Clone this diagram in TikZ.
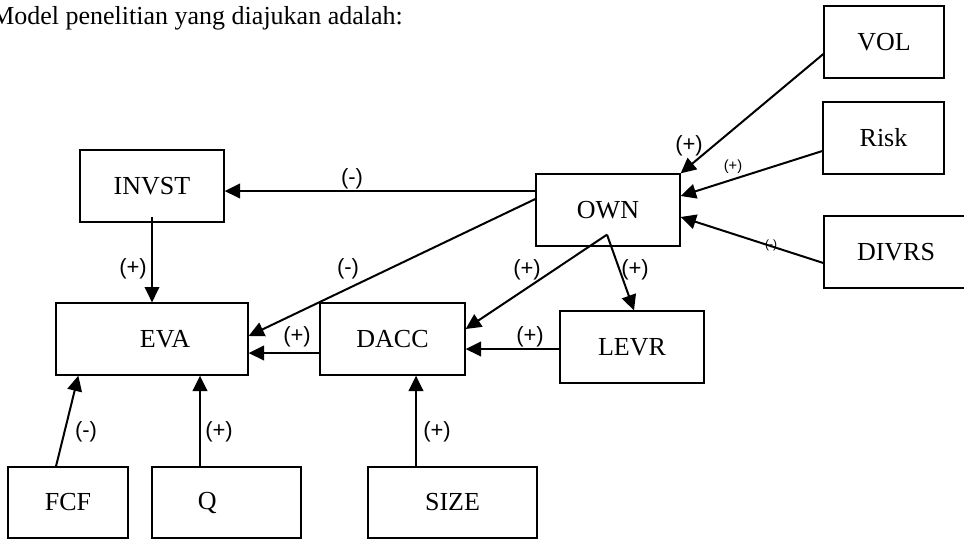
\documentclass[tikz,border=0pt]{standalone}
\usepackage{fontspec}
\setmainfont{Liberation Serif}
\newfontfamily\labelfont{Liberation Sans}
\usetikzlibrary{arrows.meta,calc}
\tikzset{
  box/.style={draw, line width=1pt, rectangle, inner sep=0pt, font=\fontsize{19.5}{23}\selectfont},
  conn/.style={line width=1.5pt, -{Triangle[length=11.5pt,width=11pt]}},
  lbl/.style={inner sep=0pt, font=\labelfont\fontsize{16.5}{19}\selectfont},
  lblsmall/.style={inner sep=0pt, font=\labelfont\fontsize{11}{13}\selectfont},
  lbltiny/.style={inner sep=0pt, font=\labelfont\fontsize{9}{11}\selectfont},
}
\begin{document}
\begin{tikzpicture}[x=0.75pt,y=-0.75pt]
\fill[white] (0,0) rectangle (964,540);
\useasboundingbox (0,0) rectangle (964,540);

\node[anchor=base west, inner sep=0pt, font=\fontsize{19.5}{23}\selectfont] (title) at (-9,24) {Model penelitian yang diajukan adalah:};

% boxes
\node[box, minimum width=90pt, minimum height=54pt] (vol) at (884,42) {VOL};
\node[box, minimum width=90.75pt, minimum height=54pt] (risk) at (883.5,138) {Risk};
\node[box, minimum width=108pt, minimum height=54pt] (divrs) at (896,252) {DIVRS};
\node[box, minimum width=108pt, minimum height=54pt] (own) at (608,210) {OWN};
\node[box, minimum width=108pt, minimum height=54pt] (invst) at (152,186) {INVST};
\node[box, minimum width=144pt, minimum height=54pt] (eva) at (152,339) {\hspace*{19.5pt}EVA};
\node[box, minimum width=108.75pt, minimum height=54pt] (dacc) at (392.5,339) {DACC};
\node[box, minimum width=108pt, minimum height=54pt] (levr) at (632,347) {LEVR};
\node[box, minimum width=90pt, minimum height=53.25pt] (fcf) at (68,502.5) {FCF};
\node[box, minimum width=111.75pt, minimum height=53.25pt] (q) at (226.5,502.5) {Q\hspace*{29pt}};
\node[box, minimum width=126.75pt, minimum height=53.25pt] (size) at (452.5,502.5) {SIZE};

\coordinate (ownfork) at ($(own.south)+(-1,-12)$);

% connectors
\draw[conn] ($(vol.west)+(0,12)$) -- (own.north east);
\draw[conn] ($(risk.west)+(0,13)$) -- ($(own.east)+(0,-14)$);
\draw[conn] ($(divrs.west)+(0,11)$) -- ($(own.east)+(0,7)$);
\draw[conn] ($(own.west)+(0,-19)$) -- ($(invst.east)+(0,5)$);
\draw[conn] ($(own.west)+(0,-11)$) -- ($(eva.east)+(0,-3)$);
\draw[conn] ($(invst.south)+(0,-6)$) -- (eva.north);
\draw[conn] ($(dacc.west)+(0,14)$) -- ($(eva.east)+(0,14)$);
\draw[conn] (ownfork) -- ($(dacc.east)+(0,-10)$);
\draw[conn] (ownfork) -- ($(levr.north)+(2,0)$);
\draw[conn] ($(levr.west)+(0,2)$) -- ($(dacc.east)+(0,10)$);
\draw[conn] ($(fcf.north)+(-12,0)$) -- ($(eva.south west)+(23,0)$);
\draw[conn] ($(q.north)+(-26.5,0)$) -- ($(eva.south)+(48,0)$);
\draw[conn] ($(size.north)+(-36.5,0)$) -- ($(dacc.south)+(23.5,0)$);

% labels
\node[lbl] (l1) at (689,146) {(+)};
\node[lblsmall] (l2) at (733,167) {(+)};
\node[lbltiny] (l3) at (771,245) {(-)};
\node[lbl] (l4) at (352,179) {(-)};
\node[lbl] (l5) at (348,269) {(-)};
\node[lbl] (l6) at (133,269) {(+)};
\node[lbl] (l7) at (297,337) {(+)};
\node[lbl] (l8) at (527,270) {(+)};
\node[lbl] (l9) at (635,270) {(+)};
\node[lbl] (l10) at (530,337) {(+)};
\node[lbl] (l11) at (86,432) {(-)};
\node[lbl] (l12) at (219,432) {(+)};
\node[lbl] (l13) at (437,432) {(+)};
\end{tikzpicture}
\end{document}
